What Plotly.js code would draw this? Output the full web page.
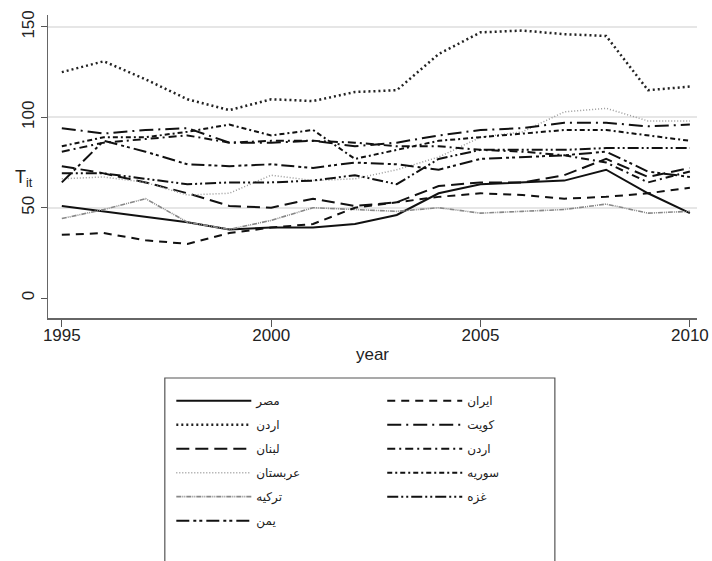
<!DOCTYPE html>
<html><head><meta charset="utf-8">
<script src="https://cdn.plot.ly/plotly-3.0.1.min.js"></script>
<style>html,body{margin:0;padding:0;background:#fff}#chart{width:712px;height:561px}</style>
</head><body><div id="chart"></div>
<script>
// ---- data ----
const years = [1995,1996,1997,1998,1999,2000,2001,2002,2003,2004,2005,2006,2007,2008,2009,2010];
const misr      = [51,48,45,42,38,39,39,41,46,58,63,64,65,71,58,47];
const urdun     = [125,131,121,110,104,110,109,114,115,135,147,148,146,145,115,117];
const lubnan    = [73,69,64,58,51,50,55,51,53,62,64,64,68,77,67,72];
const arabestan = [66,67,64,57,58,68,65,66,71,78,89,92,103,105,98,98];
const torkiye   = [44,49,55,42,38,43,50,49,48,50,47,48,49,52,47,48];
const yaman     = [64,87,81,74,73,74,72,75,74,71,77,78,79,81,70,67];
const iran      = [35,36,32,30,36,39,41,50,53,56,58,57,55,56,58,61];
const kuwait    = [94,91,93,94,86,86,87,84,86,90,93,94,97,97,95,96];
const urdun2    = [81,86,88,90,86,87,87,86,84,84,82,81,79,75,64,70];
const suriye    = [84,89,89,92,96,90,93,77,82,87,89,91,93,93,90,87];
const ghazze    = [69,69,66,63,64,64,65,68,63,77,82,82,82,83,83,83];
const names = ['مصر','اردن','لبنان','عربستان','ترکیه','یمن','ایران','کویت','اردن','سوریه','غزه'];
const yTicks = [0,50,100,150];
const xTicks = [1995,2000,2005,2010];

const series = [misr,urdun,lubnan,arabestan,torkiye,yaman,iran,kuwait,urdun2,suriye,ghazze];
const styles = [
  {color:'#111', width:2, dash:'solid', legend:'legend'},
  {color:'#222', width:2.5, dash:'2px,3px', legend:'legend'},
  {color:'#111', width:2, dash:'13px,6px', legend:'legend'},
  {color:'#999', width:1.5, dash:'1px,2px', legend:'legend'},
  {color:'#888', width:1.6, dash:'5px,1px,1px,1px,1px,1px', legend:'legend'},
  {color:'#111', width:2, dash:'13px,4px,3px,3px,3px,4px', legend:'legend'},
  {color:'#111', width:2, dash:'8px,6px', legend:'legend2'},
  {color:'#111', width:2, dash:'14px,5px,2px,5px', legend:'legend2'},
  {color:'#111', width:2, dash:'8px,4px,2px,4px', legend:'legend2'},
  {color:'#111', width:2, dash:'5px,3px,2px,3px', legend:'legend2'},
  {color:'#111', width:2, dash:'11px,3px,2px,3px,2px,3px', legend:'legend2'}
];

const traces = series.map((s,i)=>({
  x: years, y: s, type:'scatter', mode:'lines', name: names[i],
  legend: styles[i].legend, legendgroup: 'g'+i,
  line:{color:styles[i].color, width:styles[i].width, dash:styles[i].dash},
  hoverinfo:'skip'
}));

const baseFont = 'Liberation Sans, Arial, sans-serif';
const legFont = {family:'DejaVu Sans, Noto Sans, sans-serif', size:12, color:'#222'};

const layout = {
  width:712, height:561,
  margin:{l:48, r:15, t:15, b:243},
  paper_bgcolor:'#fff', plot_bgcolor:'#fff',
  showlegend:true,
  font:{family:baseFont, color:'#222'},
  xaxis:{
    range:[1994.67,2010.17], tickvals:xTicks, ticks:'outside', ticklen:7, tickcolor:'#555',
    ticklabelstandoff:-6,
    showgrid:false, zeroline:false, showline:true, linecolor:'#666', linewidth:1.5,
    tickfont:{size:17, family:baseFont, color:'#222'},
    title:{text:'year', standoff:4, font:{size:17, family:baseFont, color:'#222'}}
  },
  yaxis:{
    range:[-11,156.6], tickvals:yTicks, ticks:'outside', ticklen:6, tickcolor:'#555',
    tickangle:-90, showgrid:true, gridcolor:'#e6e6e6', gridwidth:2,
    zeroline:true, zerolinecolor:'#fff', zerolinewidth:3,
    showline:true, linecolor:'#666', linewidth:1.5,
    tickfont:{size:17, family:baseFont, color:'#222'}
  },
  legend:{x:0.19, y:-0.225, xanchor:'left', yanchor:'top', orientation:'v',
    font:legFont, bgcolor:'rgba(0,0,0,0)', borderwidth:0, tracegroupgap:5, itemwidth:75,
    itemclick:false, itemdoubleclick:false},
  legend2:{x:0.515, y:-0.225, xanchor:'left', yanchor:'top', orientation:'v',
    font:legFont, bgcolor:'rgba(0,0,0,0)', borderwidth:0, tracegroupgap:5, itemwidth:75,
    itemclick:false, itemdoubleclick:false},
  shapes:[{type:'rect', xref:'paper', yref:'paper', x0:0.180, x1:0.781, y0:-0.198, y1:-0.84,
    line:{color:'#555', width:1.2}, fillcolor:'rgba(0,0,0,0)', layer:'below'}],
  annotations:[{xref:'paper', yref:'paper', x:-0.037, y:0.462, showarrow:false,
    text:'T<sub>it</sub>', font:{size:18, family:baseFont, color:'#222'}, xanchor:'center', yanchor:'middle'}]
};

Plotly.newPlot('chart', traces, layout, {staticPlot:true, displayModeBar:false});
</script>
</body></html>
